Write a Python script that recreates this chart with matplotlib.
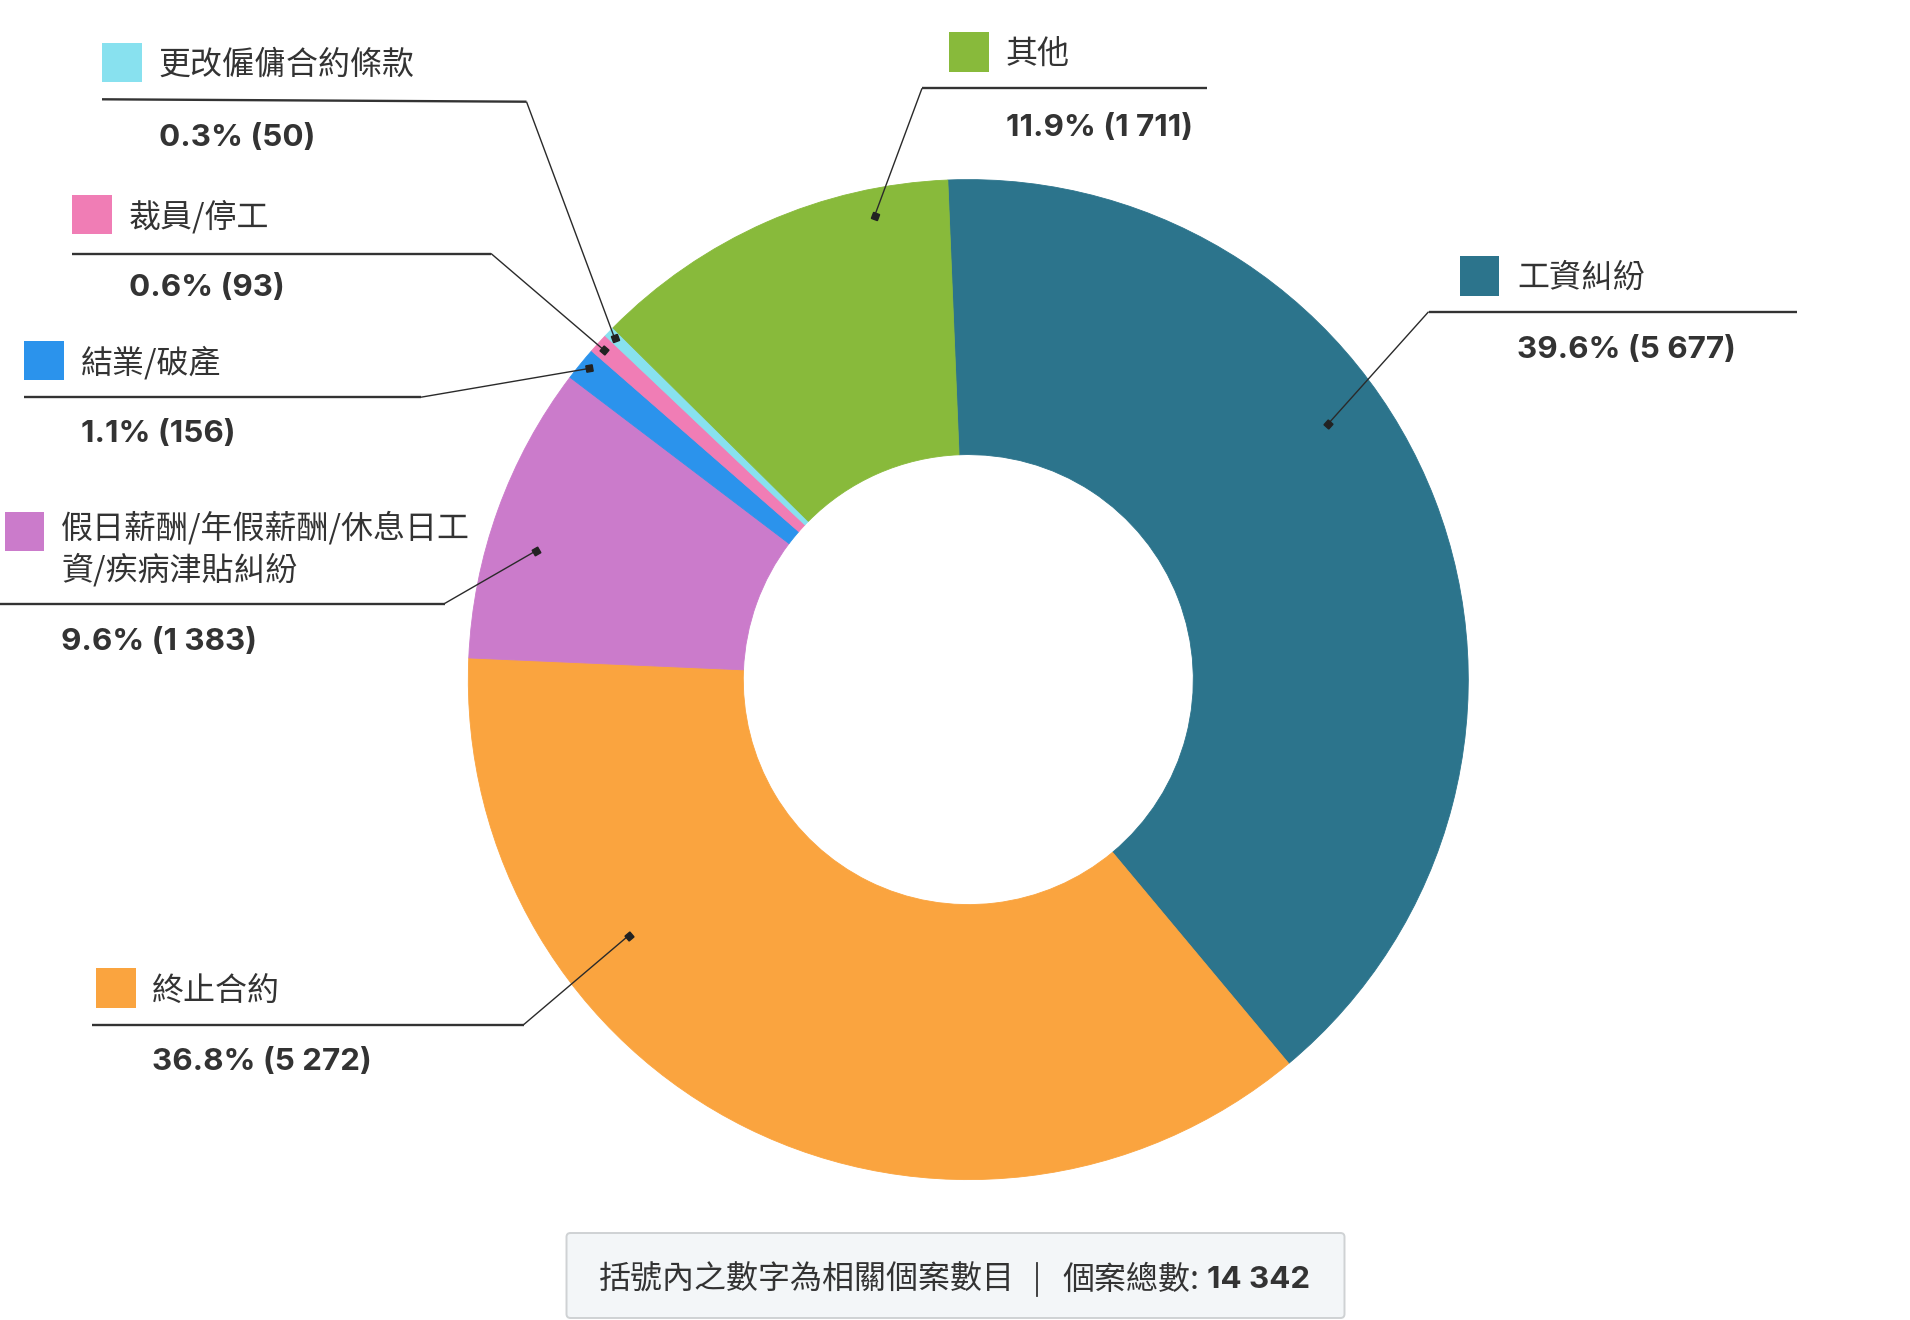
import matplotlib
matplotlib.use('Agg')
import matplotlib.pyplot as plt
from matplotlib.patches import Rectangle, FancyBboxPatch
import numpy as np

# ---------------- data ----------------
categories = ['工資糾紛', '終止合約', '假日薪酬/年假薪酬/休息日工資/疾病津貼糾紛',
              '結業/破產', '裁員/停工', '更改僱傭合約條款', '其他']
values = [5677, 5272, 1383, 156, 93, 50, 1711]
colors = ['#2C748C', '#FAA43F', '#CB7BCB', '#2B93EC', '#F07DB5', '#88E1EF', '#88BA3B']
footer_note = '括號內之數字為相關個案數目'
footer_total_label = '個案總數:'

# ---------------- layout (pixels, origin top-left) ----------------
W, H = 1910, 1320
CX, CY = 968.3, 679.6
R_OUT, R_IN = 500, 225
START = 2.35  # degrees counter-clockwise from 12 o'clock

CJK = ['Noto Sans CJK TC', 'DejaVu Sans']
NUM = ['Inter', 'Noto Sans CJK TC', 'DejaVu Sans']
TXT = '#333333'
NAME_FS = 23.0
VAL_FS = 22.6
SQ = 39.5
DY = 2.5  # vertical text nudge (px, downwards)

layout = [
    dict(sq=(1459.5, 256), name=(1517, 275.5), val=(1517, 348), anchor=(54.6, 441.5),
         path=[(1428.6, 311.7), (1796.6, 311.7)], wrap=None),
    dict(sq=(96, 968.3), name=(152.3, 988), val=(152.3, 1060), anchor=(233.0, 425.4),
         path=[(523.7, 1024.6), (91.5, 1024.6)], wrap=None),
    dict(sq=(4.5, 511.8), name=(61, 525), val=(61, 640), anchor=(286.6, 451.0),
         path=[(444.6, 603.5), (0, 603.5)], wrap=14, line2=567.5),
    dict(sq=(24, 340.5), name=(81, 360), val=(81, 432), anchor=(309.4, 490.3),
         path=[(421, 397.2), (23.5, 397.2)], wrap=None),
    dict(sq=(72, 194.5), name=(129, 214.5), val=(129, 286), anchor=(312.13, 491.0),
         path=[(491, 253.5), (71.8, 253.5)], wrap=None),
    dict(sq=(102, 42.5), name=(158.5, 62), val=(159, 135), anchor=(314.0, 491.8),
         path=[(526.5, 101.7), (102, 99.3)], wrap=None),
    dict(sq=(949, 32.3), name=(1006, 51.7), val=(1006, 125), anchor=(348.6, 473.4),
         path=[(922, 88.3), (1207, 88.3)], wrap=None),
]


def fy(y):
    return H - y


def fmt_int(n):
    return f'{n:,}'.replace(',', ' ')


fig = plt.figure(figsize=(W / 100, H / 100), dpi=100)
fig.patch.set_facecolor('white')
ax = fig.add_axes([0, 0, 1, 1])

wedges, _ = ax.pie(values, colors=colors, center=(CX, fy(CY)), radius=R_OUT,
                   startangle=90 + START, counterclock=False,
                   wedgeprops=dict(width=R_OUT - R_IN, linewidth=0.6))
for wdg, col in zip(wedges, colors):
    wdg.set_edgecolor(col)
ax.set_xlim(0, W)
ax.set_ylim(0, H)
ax.set_aspect('equal')
ax.axis('off')

total = sum(values)
for cat, val, col, lay in zip(categories, values, colors, layout):
    pct = val / total * 100
    sx, sy = lay['sq']
    ax.add_patch(Rectangle((sx, fy(sy + SQ)), SQ, SQ, facecolor=col, edgecolor='none', zorder=4))
    nx, ny = lay['name']
    if lay['wrap']:
        ax.text(nx, fy(ny + DY), cat[:lay['wrap']], ha='left', va='center', fontsize=NAME_FS,
                family=CJK, color=TXT, zorder=5)
        ax.text(nx, fy(lay['line2'] + DY), cat[lay['wrap']:], ha='left', va='center',
                fontsize=NAME_FS, family=CJK, color=TXT, zorder=5)
    else:
        ax.text(nx, fy(ny + DY), cat, ha='left', va='center', fontsize=NAME_FS,
                family=CJK, color=TXT, zorder=5)
    vx, vy = lay['val']
    ax.text(vx, fy(vy + DY), f'{pct:.1f}% ({fmt_int(val)})', ha='left', va='center',
            fontsize=VAL_FS, fontweight='bold', family=NUM, color=TXT, zorder=5)
    a, r = lay['anchor']
    mx = CX + r * np.sin(np.radians(a))
    my = CY - r * np.cos(np.radians(a))
    (ex, ey), (lx, ly) = lay['path']
    ax.plot([mx, ex], [fy(my), fy(ey)], color='#2a2a2a', lw=1.0, zorder=5,
            solid_capstyle='butt')
    ax.plot([ex, lx], [fy(ey), fy(ly)], color='#333333', lw=1.7, zorder=5,
            solid_capstyle='butt')
    ang = np.degrees(np.arctan2(fy(ey) - fy(my), ex - mx))
    ax.plot([mx], [fy(my)], marker=(4, 0, 45 + ang), ms=6.5, color='#222222',
            mec='#222222', zorder=6)

# footer box
bx0, by0, bx1, by1 = 566.5, 1233, 1344.5, 1318
ax.add_patch(FancyBboxPatch((bx0, fy(by1)), bx1 - bx0, by1 - by0,
                            boxstyle='round,pad=0,rounding_size=4',
                            facecolor='#F3F6F8', edgecolor='#CFD2D4', lw=1.4, zorder=3))
ax.text(599, fy(1280), footer_note, ha='left', va='center', fontsize=NAME_FS,
        family=CJK, color=TXT, zorder=5)
ax.plot([1037, 1037], [fy(1263), fy(1296)], color=TXT, lw=1.3, zorder=5)
ax.text(1062, fy(1280), footer_total_label, ha='left', va='center', fontsize=NAME_FS,
        family=CJK, color=TXT, zorder=5)
ax.text(1207, fy(1280), fmt_int(total), ha='left', va='center', fontsize=VAL_FS,
        fontweight='bold', family=NUM, color=TXT, zorder=5)

fig.savefig('out.png', dpi=100, facecolor='white')
